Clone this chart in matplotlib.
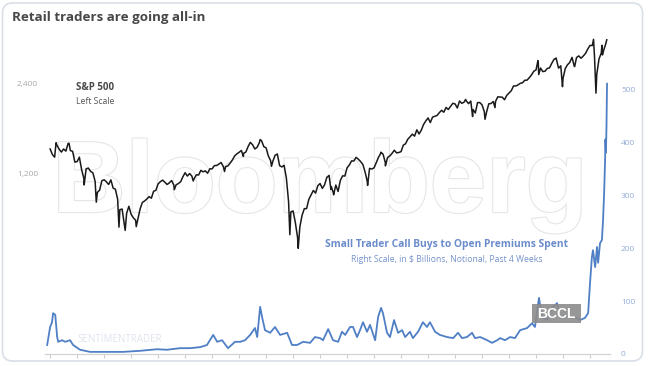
import matplotlib
matplotlib.use("Agg")
import matplotlib.pyplot as plt
import matplotlib.patheffects as pe
from matplotlib.patches import FancyBboxPatch, Rectangle
from matplotlib.ticker import NullLocator
import numpy as np

W, H = 649, 366

# S&P 500 month-end closes, Jan 2000 .. Jul 2020
spx_monthly = [
    1394, 1366, 1499, 1452, 1421, 1455, 1431, 1518, 1437, 1429, 1315, 1320,
    1366, 1240, 1160, 1249, 1256, 1224, 1211, 1134, 1041, 1060, 1139, 1148,
    1130, 1107, 1147, 1077, 1067, 990, 912, 916, 815, 886, 936, 880,
    856, 841, 848, 917, 964, 975, 990, 1008, 996, 1051, 1058, 1112,
    1131, 1145, 1126, 1107, 1121, 1141, 1102, 1104, 1115, 1130, 1174, 1212,
    1181, 1204, 1181, 1157, 1192, 1191, 1234, 1220, 1229, 1207, 1249, 1248,
    1280, 1281, 1295, 1311, 1270, 1270, 1277, 1304, 1336, 1378, 1401, 1418,
    1438, 1407, 1421, 1482, 1531, 1503, 1455, 1474, 1527, 1549, 1481, 1468,
    1379, 1331, 1323, 1386, 1400, 1280, 1267, 1283, 1166, 969, 896, 903,
    826, 735, 798, 873, 919, 919, 987, 1021, 1057, 1036, 1096, 1115,
    1074, 1104, 1169, 1187, 1089, 1031, 1102, 1049, 1141, 1183, 1181, 1258,
    1286, 1327, 1326, 1364, 1345, 1321, 1292, 1219, 1131, 1253, 1247, 1258,
    1312, 1366, 1408, 1398, 1310, 1362, 1379, 1407, 1441, 1412, 1416, 1426,
    1498, 1515, 1569, 1598, 1631, 1606, 1686, 1633, 1682, 1757, 1806, 1848,
    1783, 1859, 1872, 1884, 1924, 1960, 1931, 2003, 1972, 2018, 2068, 2059,
    1995, 2105, 2068, 2086, 2107, 2063, 2104, 1972, 1920, 2079, 2080, 2044,
    1940, 1932, 2060, 2065, 2097, 2099, 2174, 2171, 2168, 2126, 2199, 2239,
    2279, 2364, 2363, 2384, 2412, 2423, 2470, 2472, 2519, 2575, 2648, 2674,
    2824, 2714, 2641, 2648, 2705, 2718, 2816, 2902, 2914, 2712, 2760, 2507,
    2704, 2784, 2834, 2946, 2752, 2942, 2980, 2926, 2977, 3038, 3141, 3231,
    3226, 2954, 2585, 2912, 3044, 3100, 3271,
]
# intra-month highs / lows (decimal year, level)
spx_extra_t = [2000.00, 2000.22, 2000.70, 2001.26, 2001.71, 2002.55, 2002.78,
               2003.19, 2004.60, 2005.30, 2006.46, 2007.16, 2007.78, 2008.20,
               2008.88, 2009.19, 2010.40, 2010.50, 2011.33, 2011.76, 2012.25,
               2012.42, 2015.39, 2015.65, 2016.11, 2016.48, 2018.07, 2018.10,
               2018.75, 2018.98, 2019.43, 2020.13, 2020.22, 2020.44, 2020.46,
               2020.62]
spx_extra_v = [1455, 1527, 1520, 1103, 966, 797, 777,
               800, 1063, 1137, 1223, 1374, 1565, 1273,
               752, 677, 1066, 1022, 1363, 1099, 1419,
               1278, 2131, 1868, 1829, 2000, 2873, 2581,
               2931, 2351, 2744, 3386, 2237, 3232, 3002,
               3373]

# small trader call buy-to-open premiums, $bn, past 4 weeks
calls_t = [1999.89, 2000.00, 2000.07, 2000.11, 2000.19, 2000.26, 2000.30, 2000.44,
           2000.56, 2000.74, 2000.85, 2001.11, 2001.48, 2002.11, 2002.70, 2003.33,
           2003.96, 2004.33, 2004.81, 2005.19, 2005.56, 2005.81, 2006.04, 2006.19,
           2006.37, 2006.59, 2006.85, 2007.04, 2007.22, 2007.41, 2007.59, 2007.67,
           2007.78, 2007.85, 2007.96, 2008.15, 2008.33, 2008.52, 2008.78, 2008.96,
           2009.15, 2009.37, 2009.63, 2009.81, 2010.00, 2010.11, 2010.30, 2010.48,
           2010.67, 2010.81, 2010.93, 2011.11, 2011.22, 2011.37, 2011.48, 2011.59,
           2011.74, 2011.85, 2012.04, 2012.15, 2012.26, 2012.33, 2012.48, 2012.59,
           2012.74, 2012.89, 2013.04, 2013.15, 2013.33, 2013.44, 2013.63, 2013.81,
           2013.96, 2014.07, 2014.26, 2014.44, 2014.70, 2014.93, 2015.11, 2015.26,
           2015.44, 2015.63, 2015.74, 2015.93, 2016.19, 2016.37, 2016.56, 2016.67,
           2016.85, 2017.04, 2017.22, 2017.41, 2017.67, 2017.85, 2017.96, 2018.11,
           2018.22, 2018.41, 2018.59, 2018.78, 2018.89, 2019.07, 2019.26, 2019.44,
           2019.63, 2019.81, 2019.93, 2020.00, 2020.07, 2020.11, 2020.19, 2020.26,
           2020.30, 2020.37, 2020.44, 2020.48, 2020.52, 2020.56, 2020.57, 2020.59,
           2020.61, 2020.63]
calls_v = [17, 51, 60, 77, 74, 32, 23, 26,
           23, 26, 17, 8, 4, 4, 4, 6,
           9, 8, 11, 11, 13, 17, 36, 23,
           26, 11, 23, 23, 26, 36, 49, 32,
           89, 70, 45, 40, 51, 36, 40, 17,
           17, 23, 21, 32, 30, 26, 47, 26,
           23, 42, 36, 51, 51, 32, 45, 60,
           42, 55, 26, 70, 87, 77, 40, 32,
           64, 40, 45, 32, 42, 30, 42, 60,
           51, 60, 42, 36, 32, 30, 40, 30,
           32, 40, 30, 32, 26, 21, 26, 30,
           26, 32, 30, 45, 49, 58, 51, 106,
           70, 64, 87, 96, 68, 74, 68, 70,
           64, 68, 77, 134, 183, 196, 164, 202,
           172, 209, 215, 250, 300, 370, 405, 380,
           430, 510]

left_ticks = [1200, 2400]
left_labels = ["1,200", "2,400"]
right_ticks = [0, 100, 200, 300, 400, 500]

# combine monthly closes with the intra-month points
spx_t = list(2000 + (np.arange(len(spx_monthly)) + 1) / 12) + spx_extra_t
spx_v = spx_monthly + spx_extra_v
order = np.argsort(spx_t)
spx_t = np.array(spx_t)[order]
spx_v = np.array(spx_v)[order]


def fx(px):
    return px / W


def fy(py):
    return 1 - py / H


fig = plt.figure(figsize=(W / 100, H / 100), dpi=100)
fig.patch.set_facecolor("white")

card = FancyBboxPatch((0.025, 0.05), 6.40, 3.58, boxstyle="round,pad=0,rounding_size=0.1",
                      transform=fig.dpi_scale_trans, facecolor="white",
                      edgecolor="#d9dee7", lw=1.2, zorder=-3)
fig.patches.append(card)

# faint watermark
fig.text(fx(320), fy(212), "Bloomberg", family="Liberation Sans", weight="bold",
         fontsize=73, color="white", ha="center", va="baseline", zorder=-1,
         path_effects=[pe.withStroke(linewidth=1.6, foreground="#e6e6e6")])

ax = fig.add_axes([fx(45), fy(354), fx(610) - fx(45), fy(35) - fy(354)])
ax.patch.set_alpha(0)
ax2 = ax.twinx()

ax.plot(spx_t, spx_v, color="#1a1a1a", lw=1.1, zorder=3)
ax2.plot(calls_t, calls_v, color="#4f7fc4", lw=1.3, zorder=3)

ax.set_yscale("log")
ax.set_ylim(300, 3500)
ax.set_yticks(left_ticks)
ax.set_yticklabels(left_labels)
ax.yaxis.set_minor_locator(NullLocator())
ax2.set_ylim(0, 602)
ax2.set_yticks(right_ticks)

ax.set_xlim(1999.81, 2020.74)
ax.set_xticks(range(2000, 2021))
ax.set_xticklabels([])
ax.tick_params(axis="x", length=3, color="#cfcfcf", width=0.8)
ax.tick_params(axis="y", length=0, pad=5, labelsize=6, labelcolor="#a8a8a8")
ax2.tick_params(axis="y", length=0, pad=8, labelsize=6, labelcolor="#94acd8")
for a in (ax, ax2):
    for s in ("top", "left", "right"):
        a.spines[s].set_visible(False)
    a.spines["bottom"].set_color("#d4d4d4")
    a.spines["bottom"].set_linewidth(0.8)
for lab in ax.get_yticklabels() + ax2.get_yticklabels():
    lab.set_family("Open Sans")

fig.text(fx(12), fy(18), "Retail traders are going all-in", family="Open Sans",
         weight="bold", fontsize=9.6, color="#474747", ha="left", va="center")
fig.text(fx(95), fy(88), "S&P 500", family="Open Sans", weight="bold",
         fontsize=7, color="#4a4a4a", ha="center", va="center")
fig.text(fx(95), fy(102), "Left Scale", family="Open Sans",
         fontsize=6.2, color="#555555", ha="center", va="center")
fig.text(fx(447), fy(245), "Small Trader Call Buys to Open Premiums Spent",
         family="Open Sans", weight="bold", fontsize=7.4, color="#6b8ccb",
         ha="center", va="center")
fig.text(fx(447), fy(259), "Right Scale, in $ Billions, Notional, Past 4 Weeks",
         family="Open Sans", fontsize=6.2, color="#7593cc", ha="center", va="center")
fig.text(fx(77), fy(340), "SENTIMENTRADER", family="Open Sans", fontsize=7,
         color="#dfe5ee", ha="left", va="center", zorder=-1)

fig.patches.append(Rectangle((fx(532), fy(323)), fx(581) - fx(532), fy(304) - fy(323),
                             transform=fig.transFigure, facecolor="#8c8c8c",
                             alpha=0.9, edgecolor="none", zorder=5))
fig.text(fx(556.5), fy(313.5), "BCCL", family="Liberation Sans", weight="bold",
         fontsize=10, color="white", ha="center", va="center", zorder=6)

fig.savefig("out.png", dpi=100)
